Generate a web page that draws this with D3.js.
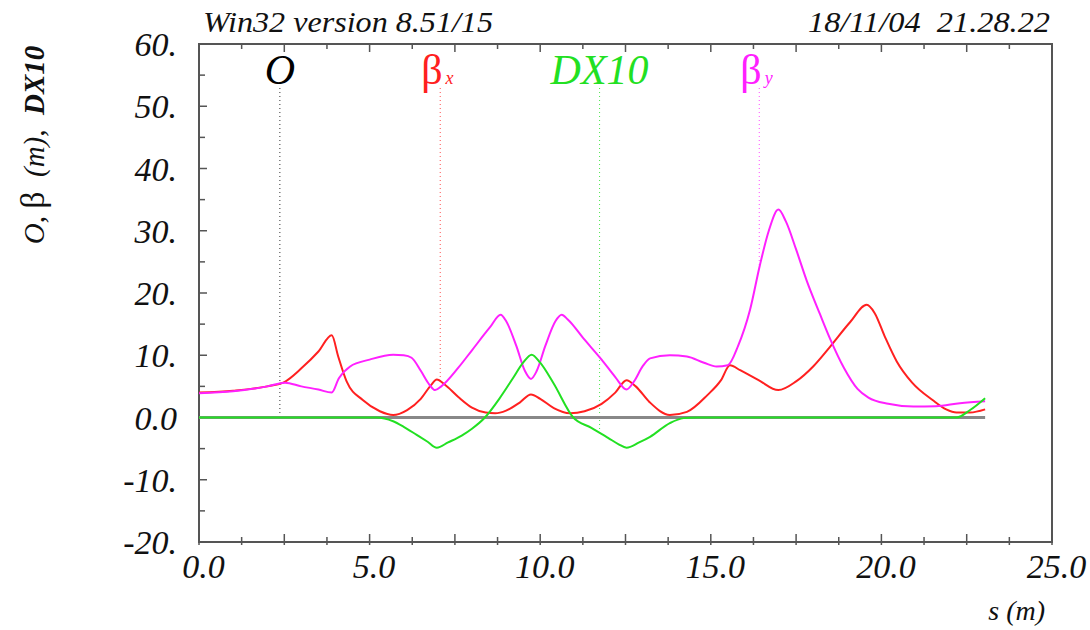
<!DOCTYPE html>
<html>
<head>
<meta charset="utf-8">
<script src="https://cdn.jsdelivr.net/npm/d3@7/dist/d3.min.js"></script>
<style>
  html, body { margin: 0; padding: 0; background: #fff; }
  svg text { white-space: pre; }
</style>
</head>
<body>
<svg id="chart" width="1090" height="630"></svg>
<script>
// ---------------- data ----------------
const headerLeft = "Win32 version 8.51/15";
const headerRight = "18/11/04  21.28.22";

const xTickValues = [0, 5, 10, 15, 20, 25];
const xTickLabels = ["0.0", "5.0", "10.0", "15.0", "20.0", "25.0"];
const yTickValues = [60, 50, 40, 30, 20, 10, 0, -10, -20];
const yTickLabels = ["60.", "50.", "40.", "30.", "20.", "10.", "0.0", "-10.", "-20."];

// O (orbit) – identically zero
const orbitS = [0, 23.04];
const orbitV = [0, 0];

// beta_x (red)
const betaXS = [0, 1, 2, 2.5, 3.0, 3.5, 3.89, 4.08, 4.33, 4.8, 5.3, 5.69, 6.1, 6.5, 6.8, 6.97, 7.2, 7.6, 8.0, 8.4, 8.68, 9.0, 9.4, 9.73, 10.0, 10.4, 10.87, 11.3, 11.8, 12.2, 12.53, 12.8, 13.2, 13.8, 14.3, 14.9, 15.3, 15.56, 15.86, 16.4, 16.98, 17.5, 18.0, 18.5, 19.08, 19.57, 19.8, 20.1, 20.45, 20.9, 21.5, 21.9, 22.2, 22.6, 23.04];
const betaXV = [4.0, 4.3, 5.0, 5.7, 7.9, 10.6, 13.2, 9.8, 5.75, 2.8, 1.0, 0.4, 1.2, 3.0, 5.2, 6.1, 5.3, 3.3, 1.6, 0.8, 0.67, 1.1, 2.4, 3.7, 3.0, 1.5, 0.67, 1.0, 2.2, 4.0, 6.0, 5.0, 2.5, 0.4, 0.9, 3.6, 6.0, 8.4, 7.6, 6.0, 4.4, 5.8, 8.2, 11.4, 15.3, 18.1, 16.8, 13.0, 9.0, 5.6, 2.8, 1.3, 0.8, 0.8, 1.3];

// beta_y (magenta)
const betaYS = [0, 1, 2, 2.52, 3.0, 3.5, 3.89, 4.1, 4.43, 5.0, 5.69, 6.0, 6.23, 6.5, 6.75, 6.92, 7.1, 7.6, 8.0, 8.53, 8.84, 9.0, 9.3, 9.55, 9.73, 9.9, 10.15, 10.45, 10.63, 10.8, 11.3, 11.8, 12.2, 12.53, 12.75, 13.0, 13.22, 13.8, 14.3, 14.8, 15.17, 15.5, 15.8, 16.15, 16.44, 16.7, 16.98, 17.2, 17.5, 17.81, 18.2, 18.5, 18.9, 19.3, 19.62, 20.2, 20.94, 21.6, 22.3, 23.04];
const betaYV = [3.9, 4.2, 5.0, 5.6, 5.0, 4.5, 4.0, 6.3, 8.2, 9.3, 10.1, 10.0, 9.6, 7.5, 5.3, 4.4, 5.0, 8.0, 10.8, 14.5, 16.5, 15.5, 11.5, 7.5, 6.2, 7.5, 11.5, 15.5, 16.5, 15.8, 12.5, 9.3, 6.5, 4.5, 5.8, 8.2, 9.5, 10.0, 9.8, 8.8, 8.2, 8.4, 11.5, 17.3, 24.5, 30.0, 33.4, 31.5, 27.0, 22.0, 16.6, 12.6, 8.0, 4.6, 3.2, 2.2, 1.75, 1.8, 2.3, 2.6];

// DX10 (green)
const dxS = [0, 5.2, 5.69, 6.0, 6.38, 6.7, 6.97, 7.3, 7.7, 8.0, 8.38, 8.8, 9.2, 9.5, 9.75, 10.0, 10.39, 10.97, 11.5, 12.0, 12.3, 12.53, 12.9, 13.22, 13.8, 14.2, 14.6, 22.2, 22.6, 23.04];
const dxV = [0, 0, -0.6, -1.5, -2.8, -3.9, -4.85, -4.0, -2.9, -1.8, 0, 3.0, 6.3, 8.8, 10.1, 8.8, 5.5, 0, -1.65, -3.3, -4.3, -4.85, -4.0, -3.1, -0.9, -0.1, 0, 0, 1.2, 3.1];

// marker (label) positions along s
const markerS = [2.37, 7.07, 11.74, 16.42];
const markerColors = ["#000000", "#ff2020", "#22e022", "#ff20ff"];

// ---------------- drawing ----------------
const FONT = "'Liberation Serif', 'Times New Roman', Times, serif";
const svg = d3.select("#chart");
svg.append("rect").attr("width", 1090).attr("height", 630).attr("fill", "#fff");

const L = 199, R = 1052, T = 44, B = 542;
const x = d3.scaleLinear().domain([0, 25]).range([L, R]);
const y = d3.scaleLinear().domain([-20, 60]).range([B, T]);

// header
svg.append("text").attr("x", 203).attr("y", 32).attr("font-size", 30)
  .attr("font-family", FONT).attr("font-style", "italic").attr("fill", "#111")
  .attr("textLength", 290).attr("lengthAdjust", "spacingAndGlyphs").text(headerLeft);
svg.append("text").attr("x", 808).attr("y", 32).attr("font-size", 30)
  .attr("font-family", FONT).attr("font-style", "italic").attr("fill", "#111")
  .attr("textLength", 242).attr("lengthAdjust", "spacingAndGlyphs").text(headerRight);

// frame
const frameCol = "#555";
svg.append("rect").attr("x", L).attr("y", T).attr("width", R - L).attr("height", B - T)
  .attr("fill", "none").attr("stroke", frameCol).attr("stroke-width", 2);

// ticks
const tg = svg.append("g").attr("stroke", frameCol).attr("stroke-width", 1.5);
d3.range(0, 25.01, 1.25).forEach(v => {
  const major = Math.abs(v / 2.5 - Math.round(v / 2.5)) < 1e-6;
  const len = major ? 8 : 5;
  tg.append("line").attr("x1", x(v)).attr("x2", x(v)).attr("y1", T).attr("y2", T + len);
  tg.append("line").attr("x1", x(v)).attr("x2", x(v)).attr("y1", B + 3).attr("y2", B - len);
});
d3.range(-20, 60.01, 5).forEach(v => {
  const major = v % 10 === 0;
  tg.append("line").attr("x1", L).attr("x2", L + (major ? 8 : 6)).attr("y1", y(v)).attr("y2", y(v));
});

// tick labels via d3 axes
const xAxis = d3.axisBottom(x).tickValues(xTickValues)
  .tickFormat((d, i) => xTickLabels[i]).tickSize(0).tickPadding(0);
const gx = svg.append("g").attr("transform", `translate(0,${B + 36})`).call(xAxis);
gx.attr("font-family", FONT);
gx.select(".domain").remove();
gx.selectAll("text").attr("font-size", 34).attr("font-style", "italic")
  .attr("font-family", FONT).attr("fill", "#111").attr("dy", 0).attr("dx", 4);

const yAxis = d3.axisLeft(y).tickValues(yTickValues)
  .tickFormat((d, i) => yTickLabels[i]).tickSize(0).tickPadding(0);
const gy = svg.append("g").attr("transform", `translate(${L - 22},0)`).call(yAxis);
gy.attr("font-family", FONT);
gy.select(".domain").remove();
gy.selectAll("text").attr("font-size", 34).attr("font-style", "italic")
  .attr("font-family", FONT).attr("fill", "#111").attr("dy", "0.34em");

// axis titles
svg.append("text").attr("x", 1045).attr("y", 620).attr("text-anchor", "end")
  .attr("font-family", FONT).attr("font-size", 28).attr("font-style", "italic")
  .attr("fill", "#111").text("s (m)");

const yl = svg.append("text").attr("transform", `translate(44,145) rotate(-90)`)
  .attr("font-family", FONT).attr("text-anchor", "middle").attr("font-size", 29).attr("fill", "#111");
yl.append("tspan").attr("font-style", "italic").text("O, ");
yl.append("tspan").attr("font-size", 34).text("β");
yl.append("tspan").attr("font-style", "italic").text("  (m),  ");
yl.append("tspan").attr("font-style", "italic").attr("font-weight", "bold").text("DX10");

// curves
const line = d3.line().x(d => x(d[0])).y(d => y(d[1])).curve(d3.curveMonotoneX);
const zip = (a, b) => a.map((v, i) => [v, b[i]]);
const interp = (S, V, s) => {
  for (let i = 0; i < S.length - 1; i++) {
    if (s >= S[i] && s <= S[i + 1]) {
      const t = (s - S[i]) / (S[i + 1] - S[i]);
      return V[i] + t * (V[i + 1] - V[i]);
    }
  }
  return V[V.length - 1];
};

const series = [
  { S: orbitS, V: orbitV, col: "#888888", w: 3 },
  { S: betaXS, V: betaXV, col: "#ff2020", w: 2 },
  { S: betaYS, V: betaYV, col: "#ff20ff", w: 2 },
  { S: dxS, V: dxV, col: "#22e022", w: 2 }
];
const markerSeries = [series[0], series[1], series[3], series[2]];

// dotted marker lines
markerS.forEach((s, i) => {
  const ser = markerSeries[i];
  const v = interp(ser.S, ser.V, s);
  svg.append("line").attr("x1", x(s)).attr("x2", x(s)).attr("y1", 88).attr("y2", y(v))
    .attr("stroke", markerColors[i]).attr("stroke-width", 1).attr("stroke-dasharray", "1,3")
    .attr("opacity", 0.8);
});

series.forEach(ser => {
  svg.append("path").datum(zip(ser.S, ser.V)).attr("d", line)
    .attr("fill", "none").attr("stroke", ser.col).attr("stroke-width", ser.w)
    .attr("stroke-linejoin", "round");
});

// marker labels
svg.append("text").attr("x", x(markerS[0])).attr("y", 84).attr("text-anchor", "middle")
  .attr("font-family", FONT).attr("font-size", 42).attr("font-style", "italic")
  .attr("fill", markerColors[0]).text("O");

const bx = svg.append("text").attr("x", x(markerS[1]) - 19).attr("y", 84)
  .attr("font-family", FONT).attr("font-size", 42).attr("fill", markerColors[1]);
bx.append("tspan").text("β");
bx.append("tspan").attr("font-size", 18).attr("font-style", "italic").attr("dx", 3).text("x");

svg.append("text").attr("x", x(markerS[2])).attr("y", 84).attr("text-anchor", "middle")
  .attr("font-family", FONT).attr("font-size", 42).attr("font-style", "italic")
  .attr("fill", markerColors[2]).text("DX10");

const by = svg.append("text").attr("x", x(markerS[3]) - 19).attr("y", 84)
  .attr("font-family", FONT).attr("font-size", 42).attr("fill", markerColors[3]);
by.append("tspan").text("β");
by.append("tspan").attr("font-size", 18).attr("font-style", "italic").attr("dx", 3).text("y");
</script>
</body>
</html>
